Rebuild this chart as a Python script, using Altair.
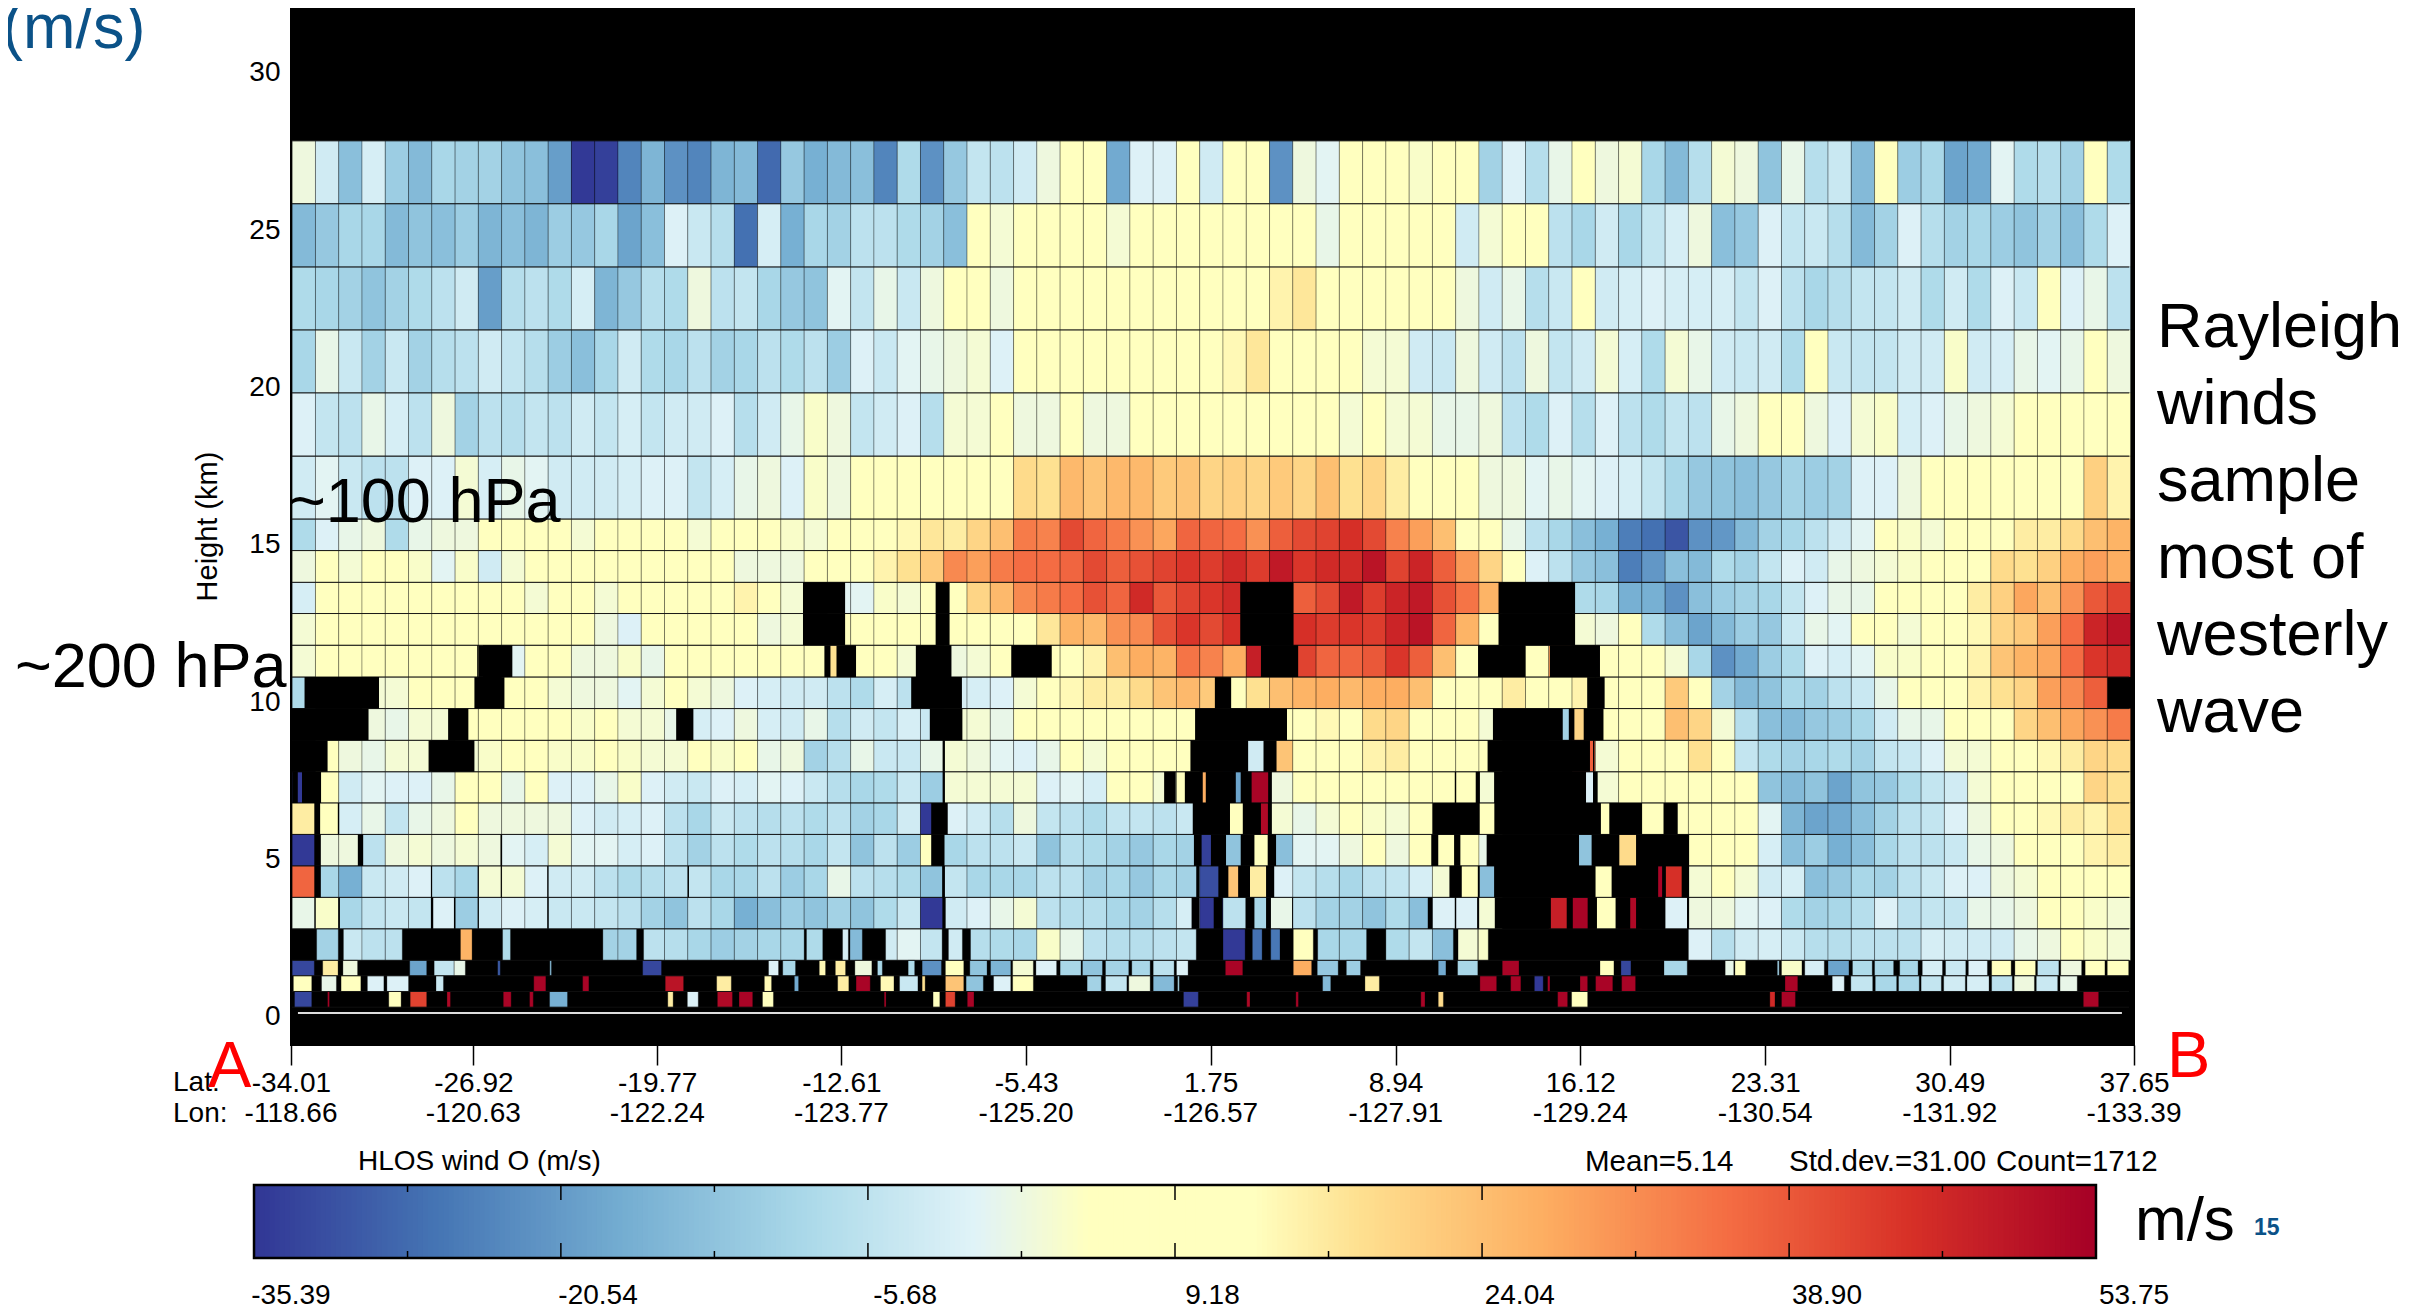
import altair as alt
import pandas as pd

FONT = "Liberation Sans"
PLOT_LEFT, PLOT_TOP = 291, 8
PLOT_W, PLOT_H = 1843, 1037

LAT_TICKS = [-34.01, -26.92, -19.77, -12.61, -5.43, 1.75, 8.94, 16.12, 23.31, 30.49, 37.65]
LON_TICKS = [-118.66, -120.63, -122.24, -123.77, -125.20, -126.57, -127.91, -129.24, -130.54, -131.92, -133.39]
LON_LABELS = ["%.2f" % v for v in LON_TICKS]
HEIGHT_TICKS = [0, 5, 10, 15, 20, 25, 30]
LAT_START, LAT_STEP = -33.963, 0.90479
ROW_EDGES = [27.84, 25.84, 23.83, 21.83, 19.83, 17.82, 15.82, 14.82, 13.81, 12.82, 11.81, 10.80,
             9.80, 8.79, 7.79, 6.80, 5.80, 4.80, 3.80, 2.80, 1.80, 1.31, 0.81, 0.31]
N = None

ROW_00 = [2,-3,-14,-2,-11,-15,-9,-10,-10,-13,-14,-20,-35,-34,-24,-16,-22,-24,-16,-15,-28,-12,-17,-15,-14,-24,-8,-22,-12,-5,-6,-3,2,8,8,-18,-1,-1,7,-3,8,8,-22,2,0,8,8,8,4,8,8,-10,-1,-7,1,8,2,3,-9,-15,-7,3,2,-13,1,-7,-4,-15,8,-11,-9,-19,-18,0,-8,-7,-10,8,-8]
ROW_01 = [-15,-12,-9,-9,-15,-13,-14,-11,-16,-14,-16,-11,-12,-9,-19,-14,-1,-4,-7,-27,-2,-17,-9,-10,-6,-6,-8,-10,-14,8,3,5,6,8,13,3,9,9,9,9,10,11,9,9,1,9,11,9,9,9,-3,3,8,10,-6,-9,-3,-9,-5,-2,2,-14,-12,-1,-5,-4,-7,-15,-10,-1,-7,-10,-9,-11,-13,-10,-14,-8,-1]
ROW_02 = [-8,-9,-10,-13,-10,-8,-6,-3,-20,-7,-6,-8,-2,-16,-12,-7,-8,2,-6,-5,-9,-12,-13,0,-5,1,-4,2,9,9,2,9,9,9,10,12,9,10,10,10,11,10,15,17,9,13,10,9,9,9,2,-3,1,-7,-4,5,-3,-2,-1,-2,-2,-2,-5,-1,-6,-9,-7,-5,-5,-3,-8,-3,-8,-1,-4,9,-1,1,-6]
ROW_03 = [-9,1,-4,-10,-4,-10,-7,-6,-3,-5,-7,-11,-14,-9,-3,-8,-9,-6,-10,-9,-6,-8,-6,-11,-1,-4,0,1,2,3,-1,9,9,9,9,9,13,9,12,10,14,17,9,9,9,9,3,3,-3,-4,2,-3,-6,2,-5,-3,3,-2,-8,3,1,-3,-4,-3,-8,5,-4,-5,-5,-3,-3,4,-3,-2,1,0,1,9,2]
ROW_04 = [-1,-5,-6,1,-2,-6,2,-10,-6,-7,-5,-6,-3,-5,-2,-5,-3,-3,-1,-7,-3,1,4,2,-5,-3,-1,-7,3,3,9,2,2,8,2,2,9,6,9,9,9,6,6,6,9,3,9,3,3,1,1,2,-6,-8,-1,-7,-1,-6,-8,-5,-6,1,2,7,8,2,-1,3,4,-2,-1,1,2,3,9,9,9,9,9]
ROW_05 = [-3,0,-4,-6,-6,-1,-1,3,-2,1,0,-3,-3,-3,-2,-1,-1,-5,-2,1,2,-1,4,2,9,9,9,9,9,9,9,19,18,25,23,25,25,22,23,20,21,20,22,20,24,18,20,16,10,9,9,2,2,0,1,0,-1,-2,-5,-9,-12,-13,-14,-12,-10,-11,-10,-1,-1,2,9,9,9,9,9,9,13,21,15]
ROW_06 = [-8,-1,1,2,-8,1,2,2,9,9,9,9,3,9,9,9,6,3,9,9,9,4,3,9,9,10,14,17,16,20,24,34,33,41,37,34,31,28,37,37,36,31,38,41,42,45,41,33,29,24,12,9,1,-6,-9,-14,-17,-25,-27,-31,-22,-21,-15,-10,-9,-6,-3,0,9,4,3,9,9,9,16,16,19,24,26]
ROW_07 = [2,5,3,9,9,4,0,4,-3,3,9,9,9,9,13,9,9,9,9,2,2,2,9,9,9,15,18,22,32,29,34,36,36,37,41,38,40,42,44,43,46,43,49,44,46,46,50,42,47,38,30,20,11,-1,-6,-12,-14,-25,-21,-14,-15,-8,-10,-5,-1,-3,1,2,3,4,9,9,9,19,18,21,27,29,27]
ROW_08 = [-2,9,9,9,9,9,10,9,9,9,3,9,9,3,9,9,9,9,9,15,9,3,N,0,0,4,3,9,9,20,25,32,34,36,40,37,46,39,42,44,46,N,N,38,41,49,43,47,49,40,35,26,N,N,N,-8,-9,-17,-17,-22,-14,-11,-10,-9,-5,-1,1,1,5,9,9,10,16,21,28,24,31,39,42]
ROW_09 = [3,9,9,9,9,9,9,9,9,9,9,9,9,2,-1,9,7,9,9,9,2,3,N,9,9,9,9,9,9,9,9,9,17,26,25,31,32,40,44,41,45,N,N,45,43,44,43,47,50,37,26,9,N,N,N,3,2,5,-8,-14,-19,-15,-11,-12,-4,1,0,9,7,3,9,9,14,20,22,29,36,47,50]
ROW_10 = [3,9,9,9,9,9,9,9,N,0,9,9,2,2,4,1,9,9,9,9,9,9,9,18,9,9,3,N,2,3,9,N,9,9,15,24,27,26,35,33,27,48,N,42,37,37,39,44,38,24,11,N,N,9,30,N,9,9,9,3,-9,-22,-18,-11,-8,-1,-2,0,4,4,9,9,15,23,26,28,36,44,46]
ROW_11 = [-8,N,N,3,3,9,9,9,N,9,9,3,2,2,0,3,9,3,2,-1,-2,-3,-3,-6,-8,-2,-6,N,-2,-2,-1,3,9,14,16,16,19,23,25,22,13,18,24,26,27,25,27,27,24,9,9,9,16,9,9,15,9,9,9,22,9,-10,-15,-13,-9,-10,-6,-4,1,9,9,9,15,18,20,29,32,38,N]
ROW_12 = [N,N,N,2,1,3,3,9,9,9,9,9,4,9,3,3,1,-2,-1,2,-2,-3,1,-7,-3,-5,-2,-4,3,3,1,9,9,9,12,7,9,9,11,N,N,N,9,9,14,9,19,20,9,7,7,3,N,N,-10,20,9,9,9,24,20,3,-7,-14,-15,-12,-11,-9,-3,1,1,9,9,10,20,24,28,31,34]
ROW_13 = [N,6,2,1,3,3,N,3,4,9,9,4,4,9,4,3,3,9,4,5,1,2,-10,-7,1,-4,-4,1,3,2,0,-1,1,9,3,9,9,9,9,N,N,-3,23,9,12,9,15,16,13,12,9,9,N,N,N,38,3,9,9,9,18,9,-5,-8,-10,-9,-8,-10,-5,-4,-1,3,3,9,9,14,16,20,19]
ROW_14 = [-35,7,-3,0,-1,-1,1,9,9,1,9,-1,-1,1,4,-1,-3,-4,-1,-2,0,-1,-4,-7,-9,-8,-4,-11,3,3,3,3,-1,0,-2,9,9,3,9,27,-19,53,2,9,9,12,9,9,9,6,7,3,N,N,N,-1,3,9,9,9,9,9,9,-13,-15,-13,-19,-13,-12,-8,-5,-3,3,9,9,9,12,20,18]
ROW_15 = [16,12,-2,1,-5,1,2,7,2,2,2,2,-1,-3,-2,-1,-6,-9,-4,-6,-7,-6,-8,-6,-10,-9,-3,-35,-1,-3,-7,2,-5,-6,-8,-5,-5,-6,-4,N,9,52,3,1,3,9,4,3,9,N,N,9,N,N,N,N,9,N,9,9,9,9,9,0,-16,-19,-18,-14,-10,-6,-5,-1,2,9,9,14,16,15,18]
ROW_16 = [-35,2,2,-6,2,3,2,3,2,0,-2,3,0,0,-2,-1,-6,-10,-6,-8,-6,-7,-9,-5,-13,-6,-11,9,-9,-6,-6,-4,-13,-7,-8,-10,-12,-9,-10,-34,-13,9,-14,0,0,2,9,2,9,9,7,1,N,N,N,-13,N,19,N,N,9,9,9,-2,-14,-11,-17,-14,-9,-6,-6,-4,1,2,9,9,12,15,16]
ROW_17 = [37,-9,-17,-4,-3,-1,-6,-9,3,3,-1,-3,-3,-6,-8,-7,-6,-5,-9,-9,-6,-11,-9,1,-6,-7,-8,-13,-5,-9,-9,-9,-6,-6,-10,-9,-12,-9,-10,-32,23,16,-1,-5,-7,-9,-6,-5,-2,3,11,-14,N,N,N,N,9,N,53,45,3,9,3,-3,-2,-14,-12,-9,-10,-6,-4,-1,-1,2,3,9,7,9,9]
ROW_18 = [1,4,-9,-5,-4,-5,-1,-11,-3,-1,-2,-4,-4,-5,-6,-10,-13,-6,-9,-17,-14,-11,-13,-10,-13,-8,-4,-35,-3,-1,1,3,-6,-7,-7,-9,-10,-7,-2,-35,-6,-9,1,-6,-10,-10,-13,-8,-14,-1,-1,3,N,N,48,53,9,52,N,-1,2,2,0,-1,-8,-10,-9,-7,-1,-6,-5,-5,1,1,2,9,6,4,3]
GRID_ROWS = [ROW_00, ROW_01, ROW_02, ROW_03, ROW_04, ROW_05, ROW_06, ROW_07, ROW_08, ROW_09,
             ROW_10, ROW_11, ROW_12, ROW_13, ROW_14, ROW_15, ROW_16, ROW_17, ROW_18]

# strips of valid wind in the four lowest rows: first column, last column, wind
STRIPS_19 = [(1.05,1.98,-10),(2.2,3,-4),(3,4,-6),(4,4.73,-6),(7.23,7.73,26),(9.04,9.38,-8),(13.35,14,-10),(14,14.8,-10),(15.1,16,-6),(16,17,-7),(17,18,-9),(18,19,-11),(19,20,-10),(20,21,-9),(21,22,-9),(22.1,22.8,-8),(23.65,23.9,-2),(23.97,24.5,-15),(25.5,26,-3),(26,27,0),(27,27.93,-5),(28.2,28.8,-3),(29.15,30,-7),(30,31,-8),(31,32,-9),(32,33,4),(33,34,1),(34,35,-6),(35,36,-7),(36,37,-7),(37,38,-6),(38,38.85,-5),(40,40.95,-35),(41.26,41.68,-27),(42.05,42.45,-26),(43.02,43.88,9),(44.07,45,-9),(45,46.17,-9),(47,48,-8),(48,49,-5),(49,49.9,-14),(50.1,50.95,3),(50.97,51.4,4),(60,61,-1),(61,62,-7),(62,63,-3),(63,64,-2),(64,65,-4),(65,66,-7),(66,67,-7),(67,68,-6),(68,69,-6),(69,70,-6),(70,71,-2),(71,72,-3),(72,73,-3),(73,74,-3),(74,75,1),(75,76,2),(76,77,6),(77,78,4),(78,79,3)]
STRIPS_20 = [(0,0.95,-33),(1.31,1.97,16),(2.18,2.81,2),(5.05,5.78,-19),(6.1,6.96,-5),(6.96,7.44,1),(8.83,8.94,-30),(11.07,11.14,-14),(15.06,15.87,-33),(20.47,20.9,-1),(21.08,21.63,-9),(22.65,22.92,14),(23.34,23.78,16),(24.18,24.91,2),(25.15,25.36,-9),(26.47,26.75,-8),(27.07,27.9,-22),(28.07,28.86,13),(29.12,29.86,-13),(30.01,30.88,-16),(30.96,31.85,3),(31.96,32.85,-1),(33,33.9,-9),(33.96,34.82,-13),(34.95,35.95,-10),(36.08,36.87,-9),(37,37.9,-6),(38,38.5,-1),(40.1,40.85,53),(43.02,43.81,27),(44.05,44.95,-12),(45.3,45.91,-11),(49.25,49.58,-18),(50.08,50.95,-9),(52,52.72,53),(56.2,56.8,9),(57.1,57.53,-33),(58.95,59.95,-9),(61.58,61.95,1),(62,62.46,5),(63.82,63.9,-10),(64,64.88,4),(65,65.84,-2),(66,66.9,-19),(67.05,67.9,-8),(68,68.82,-9),(69.08,69.87,-9),(70.05,70.92,-2),(71.05,71.92,-4),(72.03,72.85,-1),(73.03,73.87,6),(74.03,74.92,13),(75,75.92,-6),(76,76.9,2),(77.05,77.9,13),(78,78.92,9)]
STRIPS_21 = [(0.05,0.84,10),(1.26,1.9,1),(2.1,2.95,9),(3.23,3.94,-1),(4.07,5,-1),(6.18,6.5,-4),(10.38,10.9,53),(12.48,12.75,53),(16.03,16.82,50),(18.24,18.87,16),(20.29,20.6,14),(21.58,21.76,-18),(23.44,23.92,16),(24.23,24.84,53),(25.28,25.86,14),(26.1,26.89,-4),(27.07,27.2,18),(28.07,28.86,23),(28.96,29.7,-13),(30.14,30.88,-1),(30.96,31.85,10),(34.16,34.77,-10),(34.95,35.87,-5),(35.95,36.87,2),(37,37.9,-15),(38.05,38.12,-8),(44.28,44.63,-15),(46.1,46.72,16),(51.04,51.76,53),(52.36,52.8,53),(53.38,53.76,-35),(53.95,54.05,53),(55.34,55.67,53),(56.01,56.75,53),(57.13,57.73,53),(64.15,64.7,53),(66.18,66.7,-1),(66.98,67.92,-5),(68.03,68.95,-9),(69.03,69.92,-9),(70,70.87,-5),(70.97,71.9,-3),(71.97,72.92,-2),(73.03,73.92,-6),(74,74.87,2),(74.95,75.87,-4),(75.97,76.71,1)]
STRIPS_22 = [(0.1,0.84,-33),(1.52,1.6,53),(4.15,4.68,12),(5.07,5.78,42),(6.65,6.8,52),(9.07,9.41,53),(10.2,10.36,53),(11.06,11.83,-17),(16.14,16.37,16),(16.98,17.45,-1),(18.27,18.92,52),(19.2,19.79,53),(20.21,20.68,10),(25.44,25.52,53),(27.54,27.83,10),(28.07,28.49,42),(29.01,29.3,53),(38.3,38.94,-34),(41.02,41.16,52),(43.13,43.24,53),(48.5,48.68,53),(49.25,49.47,19),(54.38,54.81,53),(54.98,55.67,9),(63.5,63.72,46),(64,64.6,53),(76.97,77.63,53)]
STRIP_ROWS = {19: STRIPS_19, 20: STRIPS_20, 21: STRIPS_21, 22: STRIPS_22}

# column spans without a valid retrieval, per grid row
GAPS = {
    8: [(21.95,23.76),(27.65,28.25),(40.74,43.03),(51.84,55.13)],
    9: [(21.95,23.76),(27.65,28.25),(40.74,43.03),(51.84,55.13)],
    10: [(7.95,8.0),(8.2,9.46),(22.87,23.13),(23.39,24.23),(26.8,28.33),(30.9,32.64),(41.63,43.23),(50.96,52.97),(54.05,56.2)],
    11: [(0.53,3.73),(7.83,9.12),(26.6,28.78),(39.65,40.35),(55.65,56.4)],
    12: [(0,3.28),(6.7,7.57),(16.5,17.24),(27.4,28.8),(38.8,42.75),(51.6,54.6),(54.86,55.1),(55.5,56.35)],
    13: [(0,1.52),(5.86,7.83),(27.95,28.05),(38.6,41.08),(41.74,42.3),(51.37,55.77),(55.9,55.96)],
    14: [(0,0.24),(0.42,1.24),(27.95,28.05),(37.47,37.97),(38.36,39.13),(39.26,40.55),(40.76,41.23),(41.94,42.1),(49.96,50.02),(50.86,51.04),(51.65,55.6),(55.9,56.1)],
    15: [(0.95,1.2),(1.96,2.02),(27.46,28.17),(38.7,40.3),(40.85,41.63),(41.93,42.1),(49.07,51.03),(51.66,56.24),(56.6,58),(58.93,59.54)],
    16: [(0.95,1.23),(2.82,3.05),(8.95,9.02),(27.46,28.03),(38.75,39.08),(39.48,40.13),(40.76,41.35),(41.92,42.28),(48.95,49.25),(49.93,50.2),(51.33,55.3),(55.84,57.03),(57.75,60.03)],
    17: [(0.95,1.23),(5.96,6.01),(7.97,8.02),(8.96,9.01),(10.96,11.01),(17.0,17.05),(27.93,28.05),(38.85,38.98),(39.8,40.23),(40.65,41.16),(41.85,42.2),(49.73,50.26),(50.95,51.03),(51.65,55.99),(56.7,58.7),(58.87,59.03),(59.71,60.03)],
    18: [(0.95,1),(1.98,2.05),(5.96,6.06),(6.95,7.01),(7.97,8.02),(10.96,11.02),(27.94,28.08),(38.65,38.98),(39.6,39.98),(40.97,41.35),(41.85,42.06),(42.97,43.01),(48.8,49),(49.96,50.02),(50.92,51),(51.68,54.09),(54.77,55.03),(55.67,56.07),(56.87,57.5),(57.75,59),(59.94,60.03)],
}

WIND_STOPS = [-35.39, -26.5, -17.56, -8.65, -0.5, 5, 13, 18.1, 27, 35.9, 44.8, 53.75]
WIND_COLORS = ["#313695", "#4575b4", "#74add1", "#abd9e9", "#e0f3f8", "#ffffbf", "#ffffbf",
               "#fee090", "#fdae61", "#f46d43", "#d73027", "#a50026"]
BAR_LABELS = [-35.39, -20.54, -5.68, 9.18, 24.04, 38.90, 53.75]
BAR_TICKS = [-35.39, -27.96, -20.54, -13.11, -5.68, 1.75, 9.18, 16.61, 24.04, 31.47, 38.90, 46.32, 53.75]
BAR_RANGE = {"v0": [-35.39], "v1": [53.75]}
BAR_STEPS = 360
WHITE_LINE = {"km": [0.13], "lat0": [-33.74], "lat1": [37.18]}


def lat_of(col):
    return LAT_START + col * LAT_STEP


cells = []
for r, row in enumerate(GRID_ROWS):
    for i, v in enumerate(row):
        if v is not None:
            cells.append((lat_of(i), lat_of(i + 1), ROW_EDGES[r], ROW_EDGES[r + 1], v))
for r, strips in STRIP_ROWS.items():
    for c0, c1, v in strips:
        cells.append((lat_of(c0), lat_of(c1), ROW_EDGES[r], ROW_EDGES[r + 1], v))
cells = pd.DataFrame(cells, columns=["lat0", "lat1", "km0", "km1", "wind"])

gaps = []
for r, spans in GAPS.items():
    for c0, c1 in spans:
        gaps.append((lat_of(c0), lat_of(c1), ROW_EDGES[r], ROW_EDGES[r + 1]))
gaps = pd.DataFrame(gaps, columns=["lat0", "lat1", "km0", "km1"])

# colour bar ramp: adjacent strips along the wind range
ramp_step = (BAR_RANGE["v1"][0] - BAR_RANGE["v0"][0]) / BAR_STEPS
ramp = pd.DataFrame({"v0": [BAR_RANGE["v0"][0] + k * ramp_step for k in range(BAR_STEPS)]})
ramp["v1"] = (ramp["v0"] + ramp_step * 1.25).clip(upper=BAR_RANGE["v1"][0])
ramp["wind"] = ramp["v0"] + ramp_step / 2

LAT_SCALE = alt.Scale(domain=[-34.01, 37.65], nice=False, zero=False)
KM_SCALE = alt.Scale(domain=[-0.89, 32.06], nice=False, zero=False)
# colour bar and its labels sit on their own wind axes
BAR_SCALE = alt.Scale(domain=[-33.6, 55.59], nice=False, zero=False)
LABEL_SCALE = alt.Scale(domain=[-35.39, 53.75], nice=False, zero=False)
WIND_SCALE = alt.Scale(domain=WIND_STOPS, range=WIND_COLORS, interpolate="rgb")

x_axis = alt.Axis(values=LAT_TICKS, title=None, grid=False, domain=False, tickSize=20,
                  labelExpr="replace(format(datum.value, '.2f'), '\u2212', '-')",
                  tickWidth=1.5, tickColor="black", labelFont=FONT, labelFontSize=28, labelColor="black",
                  labelPadding=4, labelOverlap=False, labelFlush=False, labelBound=False)
y_axis = alt.Axis(values=HEIGHT_TICKS, format="d", title="Height (km)", grid=False, domain=False, ticks=False,
                  labelFont=FONT, labelFontSize=28, labelColor="black", labelPadding=11, labelOverlap=False,
                  titleFont=FONT, titleFontSize=29, titleFontWeight="normal", titleColor="black",
                  titleX=-69, titleY=518, titleBaseline="bottom")

cell_layer = alt.Chart(cells).mark_rect(stroke="#000000", strokeWidth=0.7, strokeOpacity=0.42).encode(
    x=alt.X("lat0:Q", scale=LAT_SCALE, axis=x_axis),
    x2="lat1:Q",
    y=alt.Y("km0:Q", scale=KM_SCALE, axis=y_axis),
    y2="km1:Q",
    color=alt.Color("wind:Q", legend=None, scale=WIND_SCALE),
)
row_lines = alt.Chart(pd.DataFrame({"km": ROW_EDGES})).mark_rule(color="#111111", strokeWidth=0.9).encode(
    y=alt.Y("km:Q", scale=KM_SCALE), x=alt.value(1), x2=alt.value(1838))
gap_layer = alt.Chart(gaps).mark_rect(color="black").encode(
    x=alt.X("lat0:Q", scale=LAT_SCALE, axis=None), x2="lat1:Q",
    y=alt.Y("km0:Q", scale=KM_SCALE), y2="km1:Q")
white_line = alt.Chart(pd.DataFrame(WHITE_LINE)).mark_rule(color="#dddddd", strokeWidth=2).encode(
    x=alt.X("lat0:Q", scale=LAT_SCALE, axis=None), x2="lat1:Q",
    y=alt.Y("km:Q", scale=KM_SCALE))
lon_layer = alt.Chart(pd.DataFrame({"lat": LAT_TICKS, "lon": LON_LABELS})).mark_text(
    font=FONT, fontSize=28, color="black", align="center", baseline="middle").encode(
    x=alt.X("lat:Q", scale=LAT_SCALE, axis=None), y=alt.value(1114 - PLOT_TOP), text="lon:N")

BAR_TOP, BAR_BOTTOM = 1185 - PLOT_TOP, 1258 - PLOT_TOP
ramp_layer = alt.Chart(ramp).mark_rect().encode(
    x=alt.X("v0:Q", scale=BAR_SCALE, axis=None), x2="v1:Q",
    y=alt.value(BAR_TOP), y2=alt.value(BAR_BOTTOM),
    color=alt.Color("wind:Q", legend=None, scale=WIND_SCALE))
bar_frame = alt.Chart(pd.DataFrame(BAR_RANGE)).mark_rect(filled=False, stroke="black", strokeWidth=2.5).encode(
    x=alt.X("v0:Q", scale=BAR_SCALE, axis=None), x2="v1:Q",
    y=alt.value(BAR_TOP), y2=alt.value(BAR_BOTTOM))
tick_layers = []
for keep, length in ((0, 15), (1, 7)):
    vals = BAR_TICKS[keep::2]
    base = alt.Chart(pd.DataFrame({"v": vals})).mark_rule(color="black", strokeWidth=1.5)
    x = alt.X("v:Q", scale=BAR_SCALE, axis=None)
    tick_layers.append(base.encode(x=x, y=alt.value(BAR_TOP), y2=alt.value(BAR_TOP + length)))
    tick_layers.append(base.encode(x=x, y=alt.value(BAR_BOTTOM - length), y2=alt.value(BAR_BOTTOM)))
bar_labels = alt.Chart(pd.DataFrame({"v": BAR_LABELS, "t": ["%.2f" % v for v in BAR_LABELS]})).mark_text(
    font=FONT, fontSize=28, color="black", align="center", baseline="middle").encode(
    x=alt.X("v:Q", scale=LABEL_SCALE, axis=None), y=alt.value(1296 - PLOT_TOP), text="t:N")


def note(text, x, y, size=28, color="black", baseline="middle", weight="normal"):
    return alt.Chart(pd.DataFrame({"label": [text]})).mark_text(
        font=FONT, fontSize=size, color=color, align="left", baseline=baseline, fontWeight=weight).encode(
        x=alt.value(x - PLOT_LEFT), y=alt.value(y - PLOT_TOP), text="label:N")


BLUE = "#0b5288"
notes = [
    note("(m/s)", 2, 48, 63, BLUE, "alphabetic"),
    note("~100 hPa", 289, 522, 63, baseline="alphabetic"),
    note("~200 hPa", 15, 687, 63, baseline="alphabetic"),
    note("Lat:", 173, 1083),
    note("Lon:", 173, 1114),
    note("A", 208, 1087, 65, "#ff0000", "alphabetic"),
    note("B", 2167, 1077, 65, "#ff0000", "alphabetic"),
    note("HLOS wind O (m/s)", 358, 1162),
    note("Mean=5.14", 1585, 1162, 29.5),
    note("Std.dev.=31.00", 1789, 1162, 29.5),
    note("Count=1712", 1996, 1162, 29.5),
    note("m/s", 2135, 1240, 62, baseline="alphabetic"),
    note("15", 2254, 1235, 23, BLUE, "alphabetic", "bold"),
]
for k, word in enumerate(["Rayleigh", "winds", "sample", "most of", "westerly", "wave"]):
    notes.append(note(word, 2157, 347 + 77 * k, 63, baseline="alphabetic"))

chart = alt.layer(cell_layer, row_lines, gap_layer, white_line, lon_layer, ramp_layer, bar_frame,
                  *tick_layers, bar_labels, *notes
).resolve_scale(x="independent").properties(
    width=PLOT_W, height=PLOT_H,
    autosize=alt.AutoSizeParams(type="none"),
    padding={"left": PLOT_LEFT - 8, "top": 0, "right": 292, "bottom": 267},
    background="white",
).configure_view(fill="black", stroke="black", strokeWidth=2)

chart.save("out.html", embed_options={"renderer": "svg", "actions": False})
